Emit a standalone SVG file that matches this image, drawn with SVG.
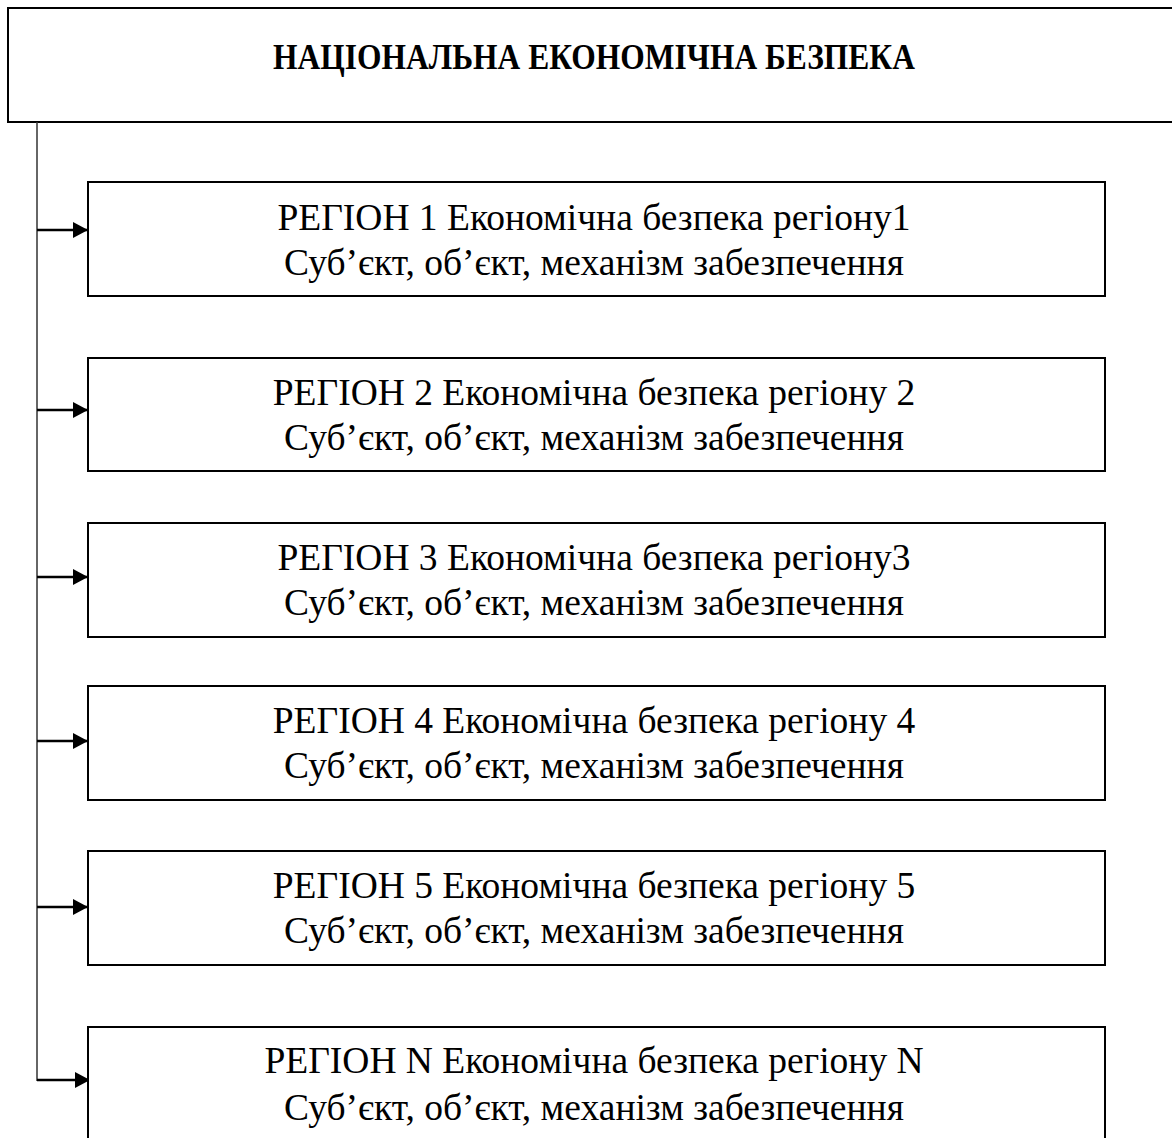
<svg xmlns="http://www.w3.org/2000/svg" width="1172" height="1138" viewBox="0 0 1172 1138">
<style>
.box{fill:#fff;stroke:#000;stroke-width:2}
.t{font-family:"Liberation Serif","Times New Roman",serif;font-size:37.5px;fill:#000;text-anchor:middle}
.title{font-family:"Liberation Serif","Times New Roman",serif;font-size:31.5px;font-weight:bold;fill:#000;text-anchor:middle}
.ln{stroke:#000;stroke-width:2.5;fill:none}
</style>
<defs>
<marker id="ah" markerWidth="16" markerHeight="16" refX="15" refY="8" orient="auto" markerUnits="userSpaceOnUse">
<path d="M0,0 L15,8 L0,16 Z" fill="#000"/>
</marker>
</defs>
<rect width="1172" height="1138" fill="#fff"/>
<g id="top">
<rect class="box" x="8" y="8" width="1180" height="114"/>
<text class="title" transform="translate(594,69) scale(1,1.12)">НАЦІОНАЛЬНА ЕКОНОМІЧНА БЕЗПЕКА</text>
</g>
<g id="connectors">
<line x1="37" y1="122" x2="37" y2="1081" stroke="#333" stroke-width="1.5"/>
<line class="ln" x1="37" y1="230" x2="88" y2="230" marker-end="url(#ah)"/>
<line class="ln" x1="37" y1="410" x2="88" y2="410" marker-end="url(#ah)"/>
<line class="ln" x1="37" y1="577" x2="88" y2="577" marker-end="url(#ah)"/>
<line class="ln" x1="37" y1="741" x2="88" y2="741" marker-end="url(#ah)"/>
<line class="ln" x1="37" y1="907" x2="88" y2="907" marker-end="url(#ah)"/>
<line class="ln" x1="37" y1="1080" x2="90" y2="1080" marker-end="url(#ah)"/>
</g>
<g id="r1">
<rect class="box" x="88" y="182" width="1017" height="114"/>
<text class="t" x="594" y="230">РЕГІОН 1 Економічна безпека регіону1</text>
<text class="t" x="594" y="275">Суб’єкт, об’єкт, механізм забезпечення</text>
</g>
<g id="r2">
<rect class="box" x="88" y="358" width="1017" height="113"/>
<text class="t" x="594" y="405">РЕГІОН 2 Економічна безпека регіону 2</text>
<text class="t" x="594" y="450">Суб’єкт, об’єкт, механізм забезпечення</text>
</g>
<g id="r3">
<rect class="box" x="88" y="523" width="1017" height="114"/>
<text class="t" x="594" y="570">РЕГІОН 3 Економічна безпека регіону3</text>
<text class="t" x="594" y="615">Суб’єкт, об’єкт, механізм забезпечення</text>
</g>
<g id="r4">
<rect class="box" x="88" y="686" width="1017" height="114"/>
<text class="t" x="594" y="733">РЕГІОН 4 Економічна безпека регіону 4</text>
<text class="t" x="594" y="778">Суб’єкт, об’єкт, механізм забезпечення</text>
</g>
<g id="r5">
<rect class="box" x="88" y="851" width="1017" height="114"/>
<text class="t" x="594" y="898">РЕГІОН 5 Економічна безпека регіону 5</text>
<text class="t" x="594" y="943">Суб’єкт, об’єкт, механізм забезпечення</text>
</g>
<g id="rN">
<rect class="box" x="88" y="1027" width="1017" height="130"/>
<text class="t" x="594" y="1073">РЕГІОН N Економічна безпека регіону N</text>
<text class="t" x="594" y="1120">Суб’єкт, об’єкт, механізм забезпечення</text>
</g>
</svg>
